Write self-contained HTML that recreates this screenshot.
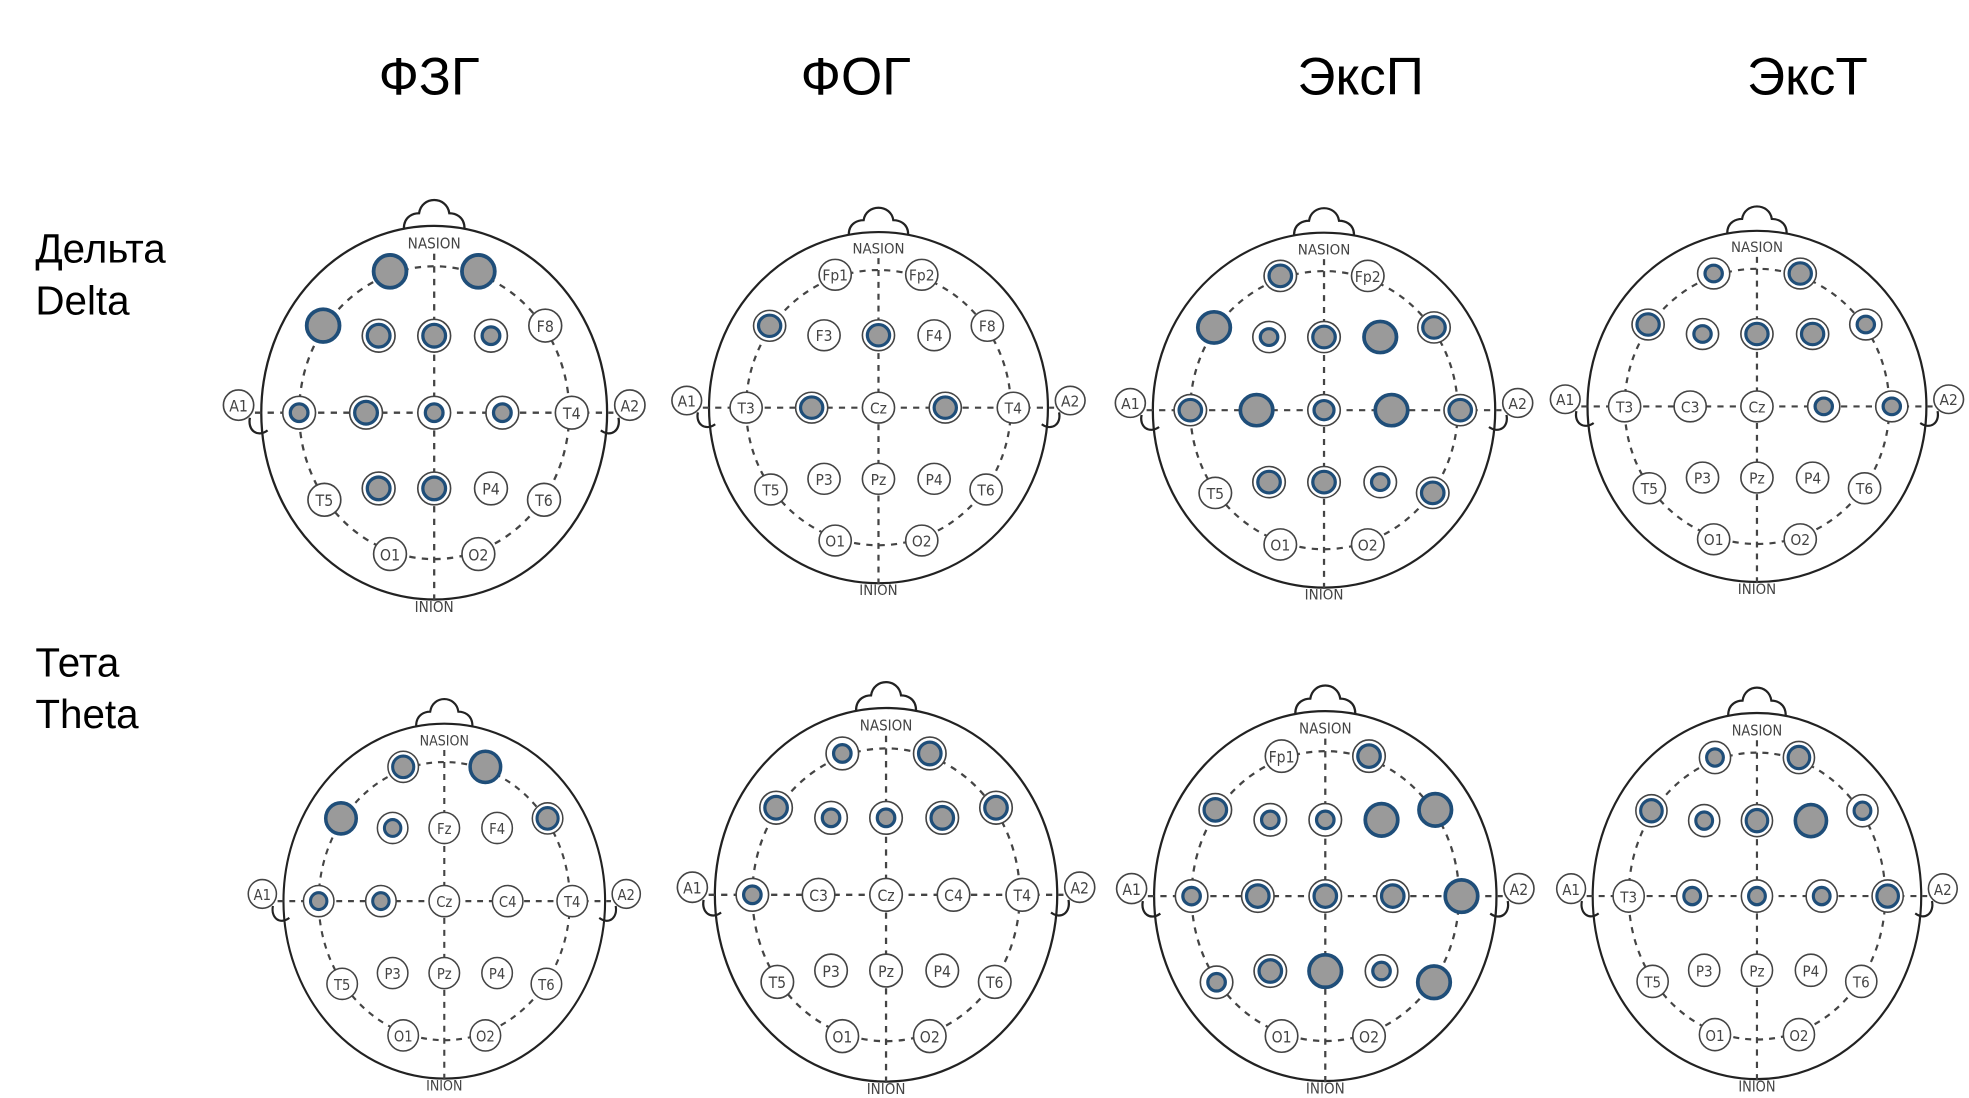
<!DOCTYPE html>
<html><head><meta charset="utf-8"><style>
html,body{margin:0;padding:0;background:#fff;}
svg{display:block}
.e{fill:#fff;stroke:#444;stroke-width:1.3}
.g{fill:#9a9a9a;stroke:#1f4e79;stroke-width:3}
.s{fill:#9a9a9a;stroke:#1f4e79;stroke-width:2.6}
.t{font-family:"DejaVu Sans Condensed","Liberation Sans Narrow","Liberation Sans",sans-serif;font-size:12.5px;fill:#444;text-anchor:middle}
.d{fill:none;stroke:#444;stroke-width:1.8;stroke-dasharray:5 5}
.o{fill:none;stroke:#222;stroke-width:1.8}
.h{font-family:"Liberation Sans","DejaVu Sans",sans-serif;fill:#000}
</style></head><body>
<svg width="1969" height="1098" viewBox="0 0 1560 870" preserveAspectRatio="none" xmlns="http://www.w3.org/2000/svg">
<defs>
<g id="head">
<path class="o" d="M-24,-146 C-24,-156 -16,-158 -12,-158 C-10,-172 10,-172 12,-158 C16,-158 24,-156 24,-146"/>
<ellipse class="o" cx="0" cy="0" rx="137" ry="148"/>
<path class="o" d="M-146,4 C-148,14 -140,20 -132,14"/>
<path class="o" d="M146,4 C148,14 140,20 132,14"/>
<ellipse class="d" cx="0" cy="0" rx="107" ry="116"/>
<line class="d" x1="-142" y1="0" x2="142" y2="0"/>
<line class="d" x1="0" y1="-126" x2="0" y2="150"/>
<circle class="e" cx="-155" cy="-6" r="12"/><circle class="e" cx="155" cy="-6" r="12"/>
<text class="t" x="-155" y="-1">A1</text><text class="t" x="155" y="-1">A2</text>
<rect x="-30" y="-143" width="60" height="14" fill="#fff"/>
<text class="t" x="0" y="-130" style="font-size:12px">NASION</text>
<text class="t" x="0" y="158" style="font-size:12px">INION</text>
</g>
</defs>

<text class="h" x="340" y="75" font-size="42" text-anchor="middle">ФЗГ</text>
<text class="h" x="678" y="75" font-size="42" text-anchor="middle">ФОГ</text>
<text class="h" x="1078" y="75" font-size="42" text-anchor="middle">ЭксП</text>
<text class="h" x="1432" y="75" font-size="42" text-anchor="middle">ЭксТ</text>
<text class="h" x="28" y="208" font-size="32">Дельта</text>
<text class="h" x="28" y="249" font-size="32">Delta</text>
<text class="h" x="28" y="536" font-size="32">Тета</text>
<text class="h" x="28" y="577" font-size="32">Theta</text>

<!-- H1 -->
<g transform="translate(344,327)">
<use href="#head"/>
<circle class="g" cx="-35" cy="-112" r="13"/><circle class="g" cx="35" cy="-112" r="13"/>
<circle class="g" cx="-88" cy="-69" r="13"/>
<circle class="e" cx="-44" cy="-61" r="13"/><circle class="s" cx="-44" cy="-61" r="9"/>
<circle class="e" cx="0" cy="-61" r="13"/><circle class="s" cx="0" cy="-61" r="9"/>
<circle class="e" cx="45" cy="-61" r="13"/><circle class="s" cx="45" cy="-61" r="7"/>
<circle class="e" cx="88" cy="-69" r="13"/><text class="t" x="88" y="-64">F8</text>
<circle class="e" cx="-107" cy="0" r="13"/><circle class="s" cx="-107" cy="0" r="7"/>
<circle class="e" cx="-54" cy="0" r="13"/><circle class="s" cx="-54" cy="0" r="9"/>
<circle class="e" cx="0" cy="0" r="13"/><circle class="s" cx="0" cy="0" r="7"/>
<circle class="e" cx="54" cy="0" r="13"/><circle class="s" cx="54" cy="0" r="7"/>
<circle class="e" cx="109" cy="0" r="13"/><text class="t" x="109" y="5">T4</text>
<circle class="e" cx="-87" cy="69" r="13"/><text class="t" x="-87" y="74">T5</text>
<circle class="e" cx="-44" cy="60" r="13"/><circle class="s" cx="-44" cy="60" r="9"/>
<circle class="e" cx="0" cy="60" r="13"/><circle class="s" cx="0" cy="60" r="9"/>
<circle class="e" cx="45" cy="60" r="13"/><text class="t" x="45" y="65">P4</text>
<circle class="e" cx="87" cy="69" r="13"/><text class="t" x="87" y="74">T6</text>
<circle class="e" cx="-35" cy="112" r="13"/><text class="t" x="-35" y="117">O1</text>
<circle class="e" cx="35" cy="112" r="13"/><text class="t" x="35" y="117">O2</text>
</g>

<!-- H2 -->
<g transform="translate(696,323) scale(0.98,0.94)">
<use href="#head"/>
<circle class="e" cx="-35" cy="-112" r="13"/><text class="t" x="-35" y="-107">Fp1</text>
<circle class="e" cx="35" cy="-112" r="13"/><text class="t" x="35" y="-107">Fp2</text>
<circle class="e" cx="-88" cy="-69" r="13"/><circle class="s" cx="-88" cy="-69" r="9"/>
<circle class="e" cx="-44" cy="-61" r="13"/><text class="t" x="-44" y="-56">F3</text>
<circle class="e" cx="0" cy="-61" r="13"/><circle class="s" cx="0" cy="-61" r="9"/>
<circle class="e" cx="45" cy="-61" r="13"/><text class="t" x="45" y="-56">F4</text>
<circle class="e" cx="88" cy="-69" r="13"/><text class="t" x="88" y="-64">F8</text>
<circle class="e" cx="-107" cy="0" r="13"/><text class="t" x="-107" y="5">T3</text>
<circle class="e" cx="-54" cy="0" r="13"/><circle class="s" cx="-54" cy="0" r="9"/>
<circle class="e" cx="0" cy="0" r="13"/><text class="t" x="0" y="5">Cz</text>
<circle class="e" cx="54" cy="0" r="13"/><circle class="s" cx="54" cy="0" r="9"/>
<circle class="e" cx="109" cy="0" r="13"/><text class="t" x="109" y="5">T4</text>
<circle class="e" cx="-87" cy="69" r="13"/><text class="t" x="-87" y="74">T5</text>
<circle class="e" cx="-44" cy="60" r="13"/><text class="t" x="-44" y="65">P3</text>
<circle class="e" cx="0" cy="60" r="13"/><text class="t" x="0" y="65">Pz</text>
<circle class="e" cx="45" cy="60" r="13"/><text class="t" x="45" y="65">P4</text>
<circle class="e" cx="87" cy="69" r="13"/><text class="t" x="87" y="74">T6</text>
<circle class="e" cx="-35" cy="112" r="13"/><text class="t" x="-35" y="117">O1</text>
<circle class="e" cx="35" cy="112" r="13"/><text class="t" x="35" y="117">O2</text>
</g>

<!-- H3 -->
<g transform="translate(1049,325) scale(0.99,0.95)">
<use href="#head"/>
<circle class="e" cx="-35" cy="-112" r="13"/><circle class="s" cx="-35" cy="-112" r="9"/>
<circle class="e" cx="35" cy="-112" r="13"/><text class="t" x="35" y="-107">Fp2</text>
<circle class="g" cx="-88" cy="-69" r="13"/>
<circle class="e" cx="-44" cy="-61" r="13"/><circle class="s" cx="-44" cy="-61" r="7"/>
<circle class="e" cx="0" cy="-61" r="13"/><circle class="s" cx="0" cy="-61" r="9"/>
<circle class="g" cx="45" cy="-61" r="13"/>
<circle class="e" cx="88" cy="-69" r="13"/><circle class="s" cx="88" cy="-69" r="9"/>
<circle class="e" cx="-107" cy="0" r="13"/><circle class="s" cx="-107" cy="0" r="9"/>
<circle class="g" cx="-54" cy="0" r="13"/>
<circle class="e" cx="0" cy="0" r="13"/><circle class="s" cx="0" cy="0" r="8"/>
<circle class="g" cx="54" cy="0" r="13"/>
<circle class="e" cx="109" cy="0" r="13"/><circle class="s" cx="109" cy="0" r="9"/>
<circle class="e" cx="-87" cy="69" r="13"/><text class="t" x="-87" y="74">T5</text>
<circle class="e" cx="-44" cy="60" r="13"/><circle class="s" cx="-44" cy="60" r="9"/>
<circle class="e" cx="0" cy="60" r="13"/><circle class="s" cx="0" cy="60" r="9"/>
<circle class="e" cx="45" cy="60" r="13"/><circle class="s" cx="45" cy="60" r="7"/>
<circle class="e" cx="87" cy="69" r="13"/><circle class="s" cx="87" cy="69" r="9"/>
<circle class="e" cx="-35" cy="112" r="13"/><text class="t" x="-35" y="117">O1</text>
<circle class="e" cx="35" cy="112" r="13"/><text class="t" x="35" y="117">O2</text>
</g>

<!-- H4 -->
<g transform="translate(1392,322) scale(0.98,0.94)">
<use href="#head"/>
<circle class="e" cx="-35" cy="-112" r="13"/><circle class="s" cx="-35" cy="-112" r="7"/>
<circle class="e" cx="35" cy="-112" r="13"/><circle class="s" cx="35" cy="-112" r="9"/>
<circle class="e" cx="-88" cy="-69" r="13"/><circle class="s" cx="-88" cy="-69" r="9"/>
<circle class="e" cx="-44" cy="-61" r="13"/><circle class="s" cx="-44" cy="-61" r="7"/>
<circle class="e" cx="0" cy="-61" r="13"/><circle class="s" cx="0" cy="-61" r="9"/>
<circle class="e" cx="45" cy="-61" r="13"/><circle class="s" cx="45" cy="-61" r="9"/>
<circle class="e" cx="88" cy="-69" r="13"/><circle class="s" cx="88" cy="-69" r="7"/>
<circle class="e" cx="-107" cy="0" r="13"/><text class="t" x="-107" y="5">T3</text>
<circle class="e" cx="-54" cy="0" r="13"/><text class="t" x="-54" y="5">C3</text>
<circle class="e" cx="0" cy="0" r="13"/><text class="t" x="0" y="5">Cz</text>
<circle class="e" cx="54" cy="0" r="13"/><circle class="s" cx="54" cy="0" r="7"/>
<circle class="e" cx="109" cy="0" r="13"/><circle class="s" cx="109" cy="0" r="7"/>
<circle class="e" cx="-87" cy="69" r="13"/><text class="t" x="-87" y="74">T5</text>
<circle class="e" cx="-44" cy="60" r="13"/><text class="t" x="-44" y="65">P3</text>
<circle class="e" cx="0" cy="60" r="13"/><text class="t" x="0" y="65">Pz</text>
<circle class="e" cx="45" cy="60" r="13"/><text class="t" x="45" y="65">P4</text>
<circle class="e" cx="87" cy="69" r="13"/><text class="t" x="87" y="74">T6</text>
<circle class="e" cx="-35" cy="112" r="13"/><text class="t" x="-35" y="117">O1</text>
<circle class="e" cx="35" cy="112" r="13"/><text class="t" x="35" y="117">O2</text>
</g>

<!-- H5 -->
<g transform="translate(352,714) scale(0.93,0.95)">
<use href="#head"/>
<circle class="e" cx="-35" cy="-112" r="13"/><circle class="s" cx="-35" cy="-112" r="9"/>
<circle class="g" cx="35" cy="-112" r="13"/>
<circle class="g" cx="-88" cy="-69" r="13"/>
<circle class="e" cx="-44" cy="-61" r="13"/><circle class="s" cx="-44" cy="-61" r="7"/>
<circle class="e" cx="0" cy="-61" r="13"/><text class="t" x="0" y="-56">Fz</text>
<circle class="e" cx="45" cy="-61" r="13"/><text class="t" x="45" y="-56">F4</text>
<circle class="e" cx="88" cy="-69" r="13"/><circle class="s" cx="88" cy="-69" r="9"/>
<circle class="e" cx="-107" cy="0" r="13"/><circle class="s" cx="-107" cy="0" r="7"/>
<circle class="e" cx="-54" cy="0" r="13"/><circle class="s" cx="-54" cy="0" r="7"/>
<circle class="e" cx="0" cy="0" r="13"/><text class="t" x="0" y="5">Cz</text>
<circle class="e" cx="54" cy="0" r="13"/><text class="t" x="54" y="5">C4</text>
<circle class="e" cx="109" cy="0" r="13"/><text class="t" x="109" y="5">T4</text>
<circle class="e" cx="-87" cy="69" r="13"/><text class="t" x="-87" y="74">T5</text>
<circle class="e" cx="-44" cy="60" r="13"/><text class="t" x="-44" y="65">P3</text>
<circle class="e" cx="0" cy="60" r="13"/><text class="t" x="0" y="65">Pz</text>
<circle class="e" cx="45" cy="60" r="13"/><text class="t" x="45" y="65">P4</text>
<circle class="e" cx="87" cy="69" r="13"/><text class="t" x="87" y="74">T6</text>
<circle class="e" cx="-35" cy="112" r="13"/><text class="t" x="-35" y="117">O1</text>
<circle class="e" cx="35" cy="112" r="13"/><text class="t" x="35" y="117">O2</text>
</g>

<!-- H6 -->
<g transform="translate(702,709) scale(0.99,1.0)">
<use href="#head"/>
<circle class="e" cx="-35" cy="-112" r="13"/><circle class="s" cx="-35" cy="-112" r="7"/>
<circle class="e" cx="35" cy="-112" r="13"/><circle class="s" cx="35" cy="-112" r="9"/>
<circle class="e" cx="-88" cy="-69" r="13"/><circle class="s" cx="-88" cy="-69" r="9"/>
<circle class="e" cx="-44" cy="-61" r="13"/><circle class="s" cx="-44" cy="-61" r="7"/>
<circle class="e" cx="0" cy="-61" r="13"/><circle class="s" cx="0" cy="-61" r="7"/>
<circle class="e" cx="45" cy="-61" r="13"/><circle class="s" cx="45" cy="-61" r="9"/>
<circle class="e" cx="88" cy="-69" r="13"/><circle class="s" cx="88" cy="-69" r="9"/>
<circle class="e" cx="-107" cy="0" r="13"/><circle class="s" cx="-107" cy="0" r="7"/>
<circle class="e" cx="-54" cy="0" r="13"/><text class="t" x="-54" y="5">C3</text>
<circle class="e" cx="0" cy="0" r="13"/><text class="t" x="0" y="5">Cz</text>
<circle class="e" cx="54" cy="0" r="13"/><text class="t" x="54" y="5">C4</text>
<circle class="e" cx="109" cy="0" r="13"/><text class="t" x="109" y="5">T4</text>
<circle class="e" cx="-87" cy="69" r="13"/><text class="t" x="-87" y="74">T5</text>
<circle class="e" cx="-44" cy="60" r="13"/><text class="t" x="-44" y="65">P3</text>
<circle class="e" cx="0" cy="60" r="13"/><text class="t" x="0" y="65">Pz</text>
<circle class="e" cx="45" cy="60" r="13"/><text class="t" x="45" y="65">P4</text>
<circle class="e" cx="87" cy="69" r="13"/><text class="t" x="87" y="74">T6</text>
<circle class="e" cx="-35" cy="112" r="13"/><text class="t" x="-35" y="117">O1</text>
<circle class="e" cx="35" cy="112" r="13"/><text class="t" x="35" y="117">O2</text>
</g>

<!-- H7 -->
<g transform="translate(1050,710) scale(0.99,0.99)">
<use href="#head"/>
<circle class="e" cx="-35" cy="-112" r="13"/><text class="t" x="-35" y="-107">Fp1</text>
<circle class="e" cx="35" cy="-112" r="13"/><circle class="s" cx="35" cy="-112" r="9"/>
<circle class="e" cx="-88" cy="-69" r="13"/><circle class="s" cx="-88" cy="-69" r="9"/>
<circle class="e" cx="-44" cy="-61" r="13"/><circle class="s" cx="-44" cy="-61" r="7"/>
<circle class="e" cx="0" cy="-61" r="13"/><circle class="s" cx="0" cy="-61" r="7"/>
<circle class="g" cx="45" cy="-61" r="13"/>
<circle class="g" cx="88" cy="-69" r="13"/>
<circle class="e" cx="-107" cy="0" r="13"/><circle class="s" cx="-107" cy="0" r="7"/>
<circle class="e" cx="-54" cy="0" r="13"/><circle class="s" cx="-54" cy="0" r="9"/>
<circle class="e" cx="0" cy="0" r="13"/><circle class="s" cx="0" cy="0" r="9"/>
<circle class="e" cx="54" cy="0" r="13"/><circle class="s" cx="54" cy="0" r="9"/>
<circle class="g" cx="109" cy="0" r="13"/>
<circle class="e" cx="-87" cy="69" r="13"/><circle class="s" cx="-87" cy="69" r="7"/>
<circle class="e" cx="-44" cy="60" r="13"/><circle class="s" cx="-44" cy="60" r="9"/>
<circle class="g" cx="0" cy="60" r="13"/>
<circle class="e" cx="45" cy="60" r="13"/><circle class="s" cx="45" cy="60" r="7"/>
<circle class="g" cx="87" cy="69" r="13"/>
<circle class="e" cx="-35" cy="112" r="13"/><text class="t" x="-35" y="117">O1</text>
<circle class="e" cx="35" cy="112" r="13"/><text class="t" x="35" y="117">O2</text>
</g>

<!-- H8 -->
<g transform="translate(1392,710) scale(0.95,0.98)">
<use href="#head"/>
<circle class="e" cx="-35" cy="-112" r="13"/><circle class="s" cx="-35" cy="-112" r="7"/>
<circle class="e" cx="35" cy="-112" r="13"/><circle class="s" cx="35" cy="-112" r="9"/>
<circle class="e" cx="-88" cy="-69" r="13"/><circle class="s" cx="-88" cy="-69" r="9"/>
<circle class="e" cx="-44" cy="-61" r="13"/><circle class="s" cx="-44" cy="-61" r="7"/>
<circle class="e" cx="0" cy="-61" r="13"/><circle class="s" cx="0" cy="-61" r="9"/>
<circle class="g" cx="45" cy="-61" r="13"/>
<circle class="e" cx="88" cy="-69" r="13"/><circle class="s" cx="88" cy="-69" r="7"/>
<circle class="e" cx="-107" cy="0" r="13"/><text class="t" x="-107" y="5">T3</text>
<circle class="e" cx="-54" cy="0" r="13"/><circle class="s" cx="-54" cy="0" r="7"/>
<circle class="e" cx="0" cy="0" r="13"/><circle class="s" cx="0" cy="0" r="7"/>
<circle class="e" cx="54" cy="0" r="13"/><circle class="s" cx="54" cy="0" r="7"/>
<circle class="e" cx="109" cy="0" r="13"/><circle class="s" cx="109" cy="0" r="9"/>
<circle class="e" cx="-87" cy="69" r="13"/><text class="t" x="-87" y="74">T5</text>
<circle class="e" cx="-44" cy="60" r="13"/><text class="t" x="-44" y="65">P3</text>
<circle class="e" cx="0" cy="60" r="13"/><text class="t" x="0" y="65">Pz</text>
<circle class="e" cx="45" cy="60" r="13"/><text class="t" x="45" y="65">P4</text>
<circle class="e" cx="87" cy="69" r="13"/><text class="t" x="87" y="74">T6</text>
<circle class="e" cx="-35" cy="112" r="13"/><text class="t" x="-35" y="117">O1</text>
<circle class="e" cx="35" cy="112" r="13"/><text class="t" x="35" y="117">O2</text>
</g>
</svg>
</body></html>
